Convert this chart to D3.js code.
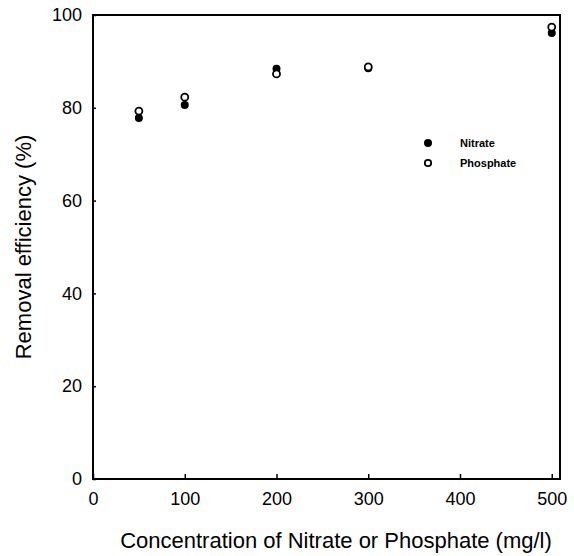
<!DOCTYPE html>
<html>
<head>
<meta charset="utf-8">
<script src="https://cdn.jsdelivr.net/npm/d3@7"></script>
<style>
  body { margin: 0; background: #fff; }
  text { font-family: "Liberation Sans", Arial, sans-serif; fill: #000; }
</style>
</head>
<body>
<div id="chart"></div>
<script>
// data
const concentrations = [50, 100, 200, 300, 500];
const nitrate = [77.8, 80.6, 88.4, 88.5, 96.1];
const phosphate = [79.3, 82.3, 87.3, 88.8, 97.4];
const xTicks = [0, 100, 200, 300, 400, 500];
const yTicks = [0, 20, 40, 60, 80, 100];

const W = 574, H = 556;
const margin = { top: 15, right: 14, bottom: 77, left: 93 };

const svg = d3.select("#chart").append("svg")
    .attr("width", W)
    .attr("height", H);

const x = d3.scaleLinear()
    .domain([0, 509])
    .range([margin.left, W - margin.right]);

const y = d3.scaleLinear()
    .domain([0, 100])
    .range([H - margin.bottom, margin.top]);

// frame
svg.append("rect")
    .attr("x", x(0))
    .attr("y", y(100))
    .attr("width", x(509) - x(0))
    .attr("height", y(0) - y(100))
    .attr("fill", "none")
    .attr("stroke", "#000")
    .attr("stroke-width", 2);

// axes with inward ticks
const xAxis = svg.append("g")
    .attr("transform", `translate(0,${y(0)})`)
    .call(d3.axisBottom(x).tickValues(xTicks).tickSize(-5).tickPadding(13).tickFormat(d3.format("d")));
xAxis.select(".domain").remove();
xAxis.selectAll("line").attr("stroke-width", 1.5);
xAxis.selectAll("text").style("font-size", "18px").attr("font-family", null);

const yAxis = svg.append("g")
    .attr("transform", `translate(${x(0)},0)`)
    .call(d3.axisLeft(y).tickValues(yTicks).tickSize(-3).tickPadding(11));
yAxis.select(".domain").remove();
yAxis.selectAll("line").attr("stroke-width", 1.5);
yAxis.selectAll("text").style("font-size", "18px").attr("font-family", null);

// points
const r = 4;
svg.append("g").selectAll("circle")
    .data(concentrations)
    .join("circle")
    .attr("cx", d => x(d))
    .attr("cy", (d, i) => y(nitrate[i]))
    .attr("r", r)
    .attr("fill", "#000");

svg.append("g").selectAll("circle")
    .data(concentrations)
    .join("circle")
    .attr("cx", d => x(d))
    .attr("cy", (d, i) => y(phosphate[i]))
    .attr("r", r - 0.5)
    .attr("fill", "#fff")
    .attr("stroke", "#000")
    .attr("stroke-width", 1.8);

// legend
const legend = svg.append("g").attr("transform", "translate(428,143)");
legend.append("circle").attr("r", 4).attr("fill", "#000");
legend.append("circle").attr("cy", 20).attr("r", 3.2)
    .attr("fill", "#fff").attr("stroke", "#000").attr("stroke-width", 1.8);
legend.append("text").attr("x", 32).attr("y", 4)
    .style("font-size", "11px").style("font-weight", "bold").text("Nitrate");
legend.append("text").attr("x", 32).attr("y", 24)
    .style("font-size", "11px").style("font-weight", "bold").text("Phosphate");

// axis titles
svg.append("text")
    .attr("x", 336)
    .attr("y", 548)
    .attr("text-anchor", "middle")
    .style("font-size", "22px")
    .text("Concentration of Nitrate or Phosphate (mg/l)");

svg.append("text")
    .attr("transform", `translate(31,${y(50)}) rotate(-90)`)
    .attr("text-anchor", "middle")
    .style("font-size", "22px")
    .text("Removal efficiency (%)");
</script>
</body>
</html>
